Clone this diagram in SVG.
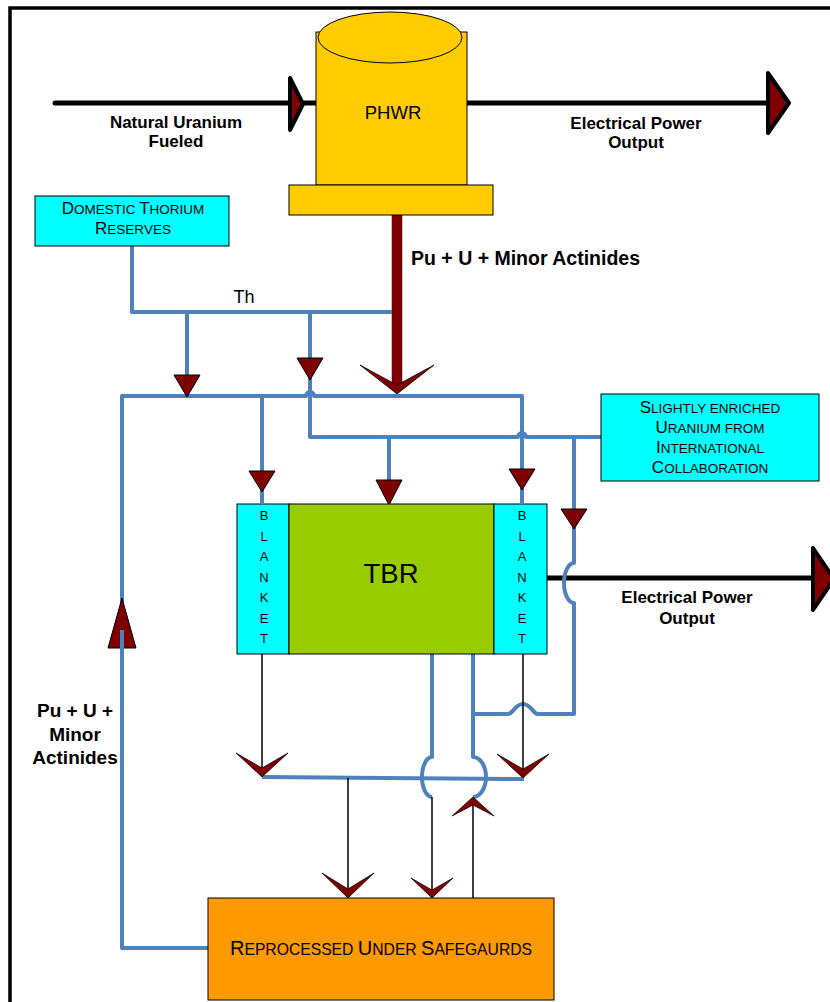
<svg xmlns="http://www.w3.org/2000/svg" width="830" height="1002" viewBox="0 0 830 1002">
<style>
.frame{fill:none;stroke:#000;stroke-width:3.5}
.blue{fill:none;stroke:#4F81BD;stroke-width:4;stroke-linejoin:round}
.thin{fill:none;stroke:#000;stroke-width:1.5}
.thick{fill:none;stroke:#000;stroke-width:5;stroke-linecap:round}
.tri{fill:#7F0000;stroke:#000;stroke-width:1}
.bigtri{fill:#7F0000;stroke:#000;stroke-width:4;stroke-linejoin:round}
.chev{fill:#7F0000;stroke:#000;stroke-width:0.75}
.box{stroke:#000;stroke-width:1}
.t{font-family:"Liberation Sans",Arial,sans-serif;fill:#000}
.b{font-weight:bold}
.c{text-anchor:middle}
.sc1{font-size:17px}
.sc2{font-size:13.5px}
.rc1{font-size:20px}
.rc2{font-size:15.7px}
.lbl{font-size:17px}
.blk{font-size:13px}
</style>
<rect class="frame" x="10" y="8" width="900" height="1100"/>
<g id="connectors">
  <line class="thick" x1="55" y1="103" x2="316" y2="103"/>
  <line class="thick" x1="467" y1="103" x2="768" y2="103"/>
  <line class="thick" x1="547" y1="578" x2="813" y2="578"/>
  <polygon class="bigtri" points="290,78 290,130 303,104"/>
  <polygon class="bigtri" points="768,73 768,133 789,103"/>
  <polygon class="bigtri" points="813,548 813,610 834,579"/>
  <rect x="392" y="215" width="10" height="172" fill="#7F0000" stroke="#3a0000" stroke-width="0.5"/>
  <polygon class="chev" points="360,365 397,394 434,365 397,385"/>
  <path class="blue" d="M132,246 V312 H392"/>
  <path class="blue" d="M187,312 V380"/>
  <path class="blue" d="M310,312 V437 H518 A4,4 0 0 1 526,437 H601"/>
  <path class="blue" d="M208,948 H122 V396 H306 A4,4 0 0 1 314,396 H522 V503"/>
  <path class="blue" d="M262,396 V503"/>
  <path class="blue" d="M389,437 V500"/>
  <path class="blue" d="M574,437 V563 A10,20 0 0 0 574,603 V714 H538 C533,714 531,704 523,704 C515,704 513,714 508,714 H473"/>
  <path class="blue" d="M432,654 V757 A10,20 0 0 0 432,797"/>
  <path class="blue" d="M473,654 V757 A13,20 0 0 1 473,797"/>
  <path class="blue" d="M262,777 L524,779"/>
  <line class="thin" x1="262" y1="654" x2="262" y2="772"/>
  <line class="thin" x1="523" y1="654" x2="523" y2="773"/>
  <line class="thin" x1="348" y1="778" x2="348" y2="894"/>
  <line class="thin" x1="432" y1="797" x2="432" y2="894"/>
  <line class="thin" x1="473" y1="898" x2="473" y2="801"/>
  <polygon class="tri" points="174,375 200,375 187,397"/>
  <polygon class="tri" points="297,358 323,358 310,380"/>
  <polygon class="tri" points="249,471 275,471 262,492"/>
  <polygon class="tri" points="376,480 402,480 389,505"/>
  <polygon class="tri" points="509,469 535,469 522,490"/>
  <polygon class="tri" points="561,509 587,509 574,529"/>
  <polygon class="tri" points="122,598 108,648 136,648"/>
  <line class="blue" x1="122" y1="630" x2="122" y2="650"/>
  <polygon class="chev" points="236,753 262,777 288,753 262,768"/>
  <polygon class="chev" points="497,754 523,778 549,754 523,769"/>
  <polygon class="chev" points="322,873 348,898 374,873 348,889"/>
  <polygon class="chev" points="411,878 432,898 453,878 432,890"/>
  <polygon class="chev" points="452,816 473,797 494,816 473,805"/>
  <text class="t c" x="244" y="303" font-size="18">Th</text>
  <text class="t b" x="411" y="265" font-size="19.5">Pu + U + Minor Actinides</text>
  <text class="t b c lbl" x="176" y="128">Natural Uranium</text>
  <text class="t b c lbl" x="176" y="147">Fueled</text>
  <text class="t b c lbl" x="636" y="129">Electrical Power</text>
  <text class="t b c lbl" x="636" y="148">Output</text>
  <text class="t b c lbl" x="687" y="603">Electrical Power</text>
  <text class="t b c lbl" x="687" y="624">Output</text>
  <text class="t b c" font-size="19" x="75" y="717">Pu + U +</text>
  <text class="t b c" font-size="19" x="75" y="741">Minor</text>
  <text class="t b c" font-size="19" x="75" y="764">Actinides</text>
</g>
<g id="phwr">
  <rect class="box" x="316" y="32" width="151" height="153" fill="#FFCC00"/>
  <ellipse class="box" cx="390" cy="37.5" rx="72" ry="25.5" fill="#FFCC00"/>
  <rect class="box" x="289" y="185" width="204" height="30" fill="#FFCC00"/>
  <text class="t c" x="393" y="119" font-size="18.5">PHWR</text>
</g>
<g id="thorium">
  <rect class="box" x="35" y="196" width="194" height="50" fill="#00FFFF"/>
  <text class="t c" x="133" y="214"><tspan class="sc1">D</tspan><tspan class="sc2">OMESTIC </tspan><tspan class="sc1">T</tspan><tspan class="sc2">HORIUM</tspan></text>
  <text class="t c" x="133" y="234"><tspan class="sc1">R</tspan><tspan class="sc2">ESERVES</tspan></text>
</g>
<g id="enriched">
  <rect class="box" x="601" y="394" width="218" height="87" fill="#00FFFF"/>
  <text class="t c" x="710" y="413"><tspan class="sc1">S</tspan><tspan class="sc2">LIGHTLY ENRICHED</tspan></text>
  <text class="t c" x="710" y="433"><tspan class="sc1">U</tspan><tspan class="sc2">RANIUM FROM</tspan></text>
  <text class="t c" x="710" y="453"><tspan class="sc1">I</tspan><tspan class="sc2">NTERNATIONAL</tspan></text>
  <text class="t c" x="710" y="473"><tspan class="sc1">C</tspan><tspan class="sc2">OLLABORATION</tspan></text>
</g>
<g id="tbr">
  <rect class="box" x="237" y="504" width="52" height="150" fill="#00FFFF"/>
  <rect class="box" x="289" y="504" width="205" height="150" fill="#99CC00"/>
  <rect class="box" x="494" y="504" width="53" height="150" fill="#00FFFF"/>
  <text class="t c" x="391" y="583" font-size="27.5">TBR</text>
  <g class="t c blk">
    <text x="264" y="520">B</text><text x="264" y="540.5">L</text><text x="264" y="561">A</text><text x="264" y="581.5">N</text><text x="264" y="602">K</text><text x="264" y="622.5">E</text><text x="264" y="643">T</text>
    <text x="522" y="520">B</text><text x="522" y="540.5">L</text><text x="522" y="561">A</text><text x="522" y="581.5">N</text><text x="522" y="602">K</text><text x="522" y="622.5">E</text><text x="522" y="643">T</text>
  </g>
</g>
<g id="reprocessed">
  <rect class="box" x="208" y="898" width="346" height="102" fill="#FF9900"/>
  <text class="t c" x="381" y="955"><tspan class="rc1">R</tspan><tspan class="rc2">EPROCESSED </tspan><tspan class="rc1">U</tspan><tspan class="rc2">NDER </tspan><tspan class="rc1">S</tspan><tspan class="rc2">AFEGAURDS</tspan></text>
</g>
</svg>
